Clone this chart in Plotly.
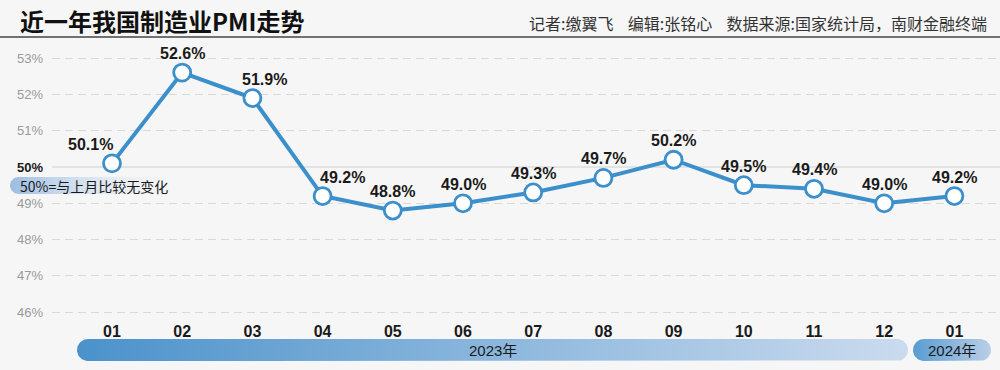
import numpy as np
import plotly.graph_objects as go

# ---- data ----
months = ["01", "02", "03", "04", "05", "06", "07", "08", "09", "10", "11", "12", "01"]
pmi = [50.1, 52.6, 51.9, 49.2, 48.8, 49.0, 49.3, 49.7, 50.2, 49.5, 49.4, 49.0, 49.2]
y_ticks = [46, 47, 48, 49, 50, 51, 52, 53]
label_shift = [-22, 0, 12, 20, 0, 0, 0, 0, 0, 0, 0, 0, 0]
years = ["2023年", "2024年"]

W, H = 1000, 370
BG = "#f6f6f6"
BLUE = "#3b8fcb"
NUM_FONT = "Liberation Sans, Arial, Noto Sans CJK SC"
CJK_FONT = "Noto Sans CJK SC, Noto Sans, sans-serif"

def px(xp):
    return xp / W

def py(yp):
    return 1 - yp / H

# main axes geometry
left_px, right_px, top_px, bot_px = 52, 1000, 50, 320
x0_px, step = 112, 70.2
y50_px, unit = 167, 36.3
x_range = [(left_px - x0_px) / step, (right_px - x0_px) / step]
y_range = [50 - (bot_px - y50_px) / unit, 50 + (y50_px - top_px) / unit]

xs = list(range(len(months)))

fig = go.Figure()

fig.add_trace(go.Scatter(
    x=xs, y=pmi, mode="lines+markers",
    line=dict(color=BLUE, width=4),
    marker=dict(size=17, color="white", line=dict(color=BLUE, width=2.8)),
    hoverinfo="skip", showlegend=False, cliponaxis=False,
))

# value labels
for i, v in enumerate(pmi):
    fig.add_annotation(x=xs[i], y=v, text=f"<b>{v:.1f}%</b>", showarrow=False,
                       yshift=19, xshift=label_shift[i], xref="x", yref="y",
                       xanchor="center", yanchor="middle",
                       font=dict(family=NUM_FONT, size=16, color="#1a1a1a"))

# overlay pixel axes for decorations
def pill(x0, x1, y0, y1, n=30):
    r = (y1 - y0) / 2
    cy = (y0 + y1) / 2
    t1 = np.linspace(np.pi / 2, 3 * np.pi / 2, n)
    t2 = np.linspace(-np.pi / 2, np.pi / 2, n)
    xa = list(x0 + r + r * np.cos(t1)) + list(x1 - r + r * np.cos(t2))
    ya = list(cy - r * np.sin(t1)) + list(cy - r * np.sin(t2))
    xa.append(xa[0]); ya.append(ya[0])
    return xa, ya

pills = [
    ((10, 190, 177, 194), [[0, "rgba(150,185,225,0.95)"], [1, "rgba(246,246,246,0)"]]),
    ((77, 908, 339, 361), [[0, "#4b92cb"], [1, "#cbdbee"]]),
    ((913, 991, 339, 361), [[0, "#5a9cd2"], [1, "#b9cfe7"]]),
]
for (x0, x1, y0, y1), cs in pills:
    xa, ya = pill(x0, x1, y0, y1)
    fig.add_trace(go.Scatter(x=xa, y=ya, mode="lines", fill="toself",
                             line=dict(width=0, color="rgba(0,0,0,0)"),
                             fillgradient=dict(type="horizontal", colorscale=cs),
                             xaxis="x2", yaxis="y2", hoverinfo="skip", showlegend=False))

fig.update_layout(
    width=W, height=H, margin=dict(l=0, r=0, t=0, b=0),
    paper_bgcolor=BG, plot_bgcolor="rgba(0,0,0,0)",
    xaxis=dict(domain=[px(left_px), px(right_px)], range=x_range,
               tickvals=xs, ticktext=[f"<b>{m}</b>" for m in months],
               tickfont=dict(family=NUM_FONT, size=16, color="#1a1a1a"),
               showgrid=False, zeroline=False, showline=False, ticks="",
               ticklabelstandoff=0),
    yaxis=dict(domain=[py(bot_px), py(top_px)], range=y_range,
               tickvals=[t for t in y_ticks if t != 50], showticklabels=False,
               showgrid=True, gridcolor="#d9d9d9", griddash="8px,5px", gridwidth=1,
               zeroline=False, showline=False, ticks=""),
    xaxis2=dict(domain=[0, 1], range=[0, W], anchor="y2", visible=False, fixedrange=True),
    yaxis2=dict(domain=[0, 1], range=[H, 0], anchor="x2", visible=False, fixedrange=True),
)

# solid 50% line
fig.add_shape(type="line", xref="paper", yref="y", x0=px(left_px), x1=1, y0=50, y1=50,
              line=dict(color="#dcdcdc", width=1.5), layer="below")

# y tick labels
for t in y_ticks:
    bold = t == 50
    fig.add_annotation(x=px(45), y=t, xref="paper", yref="y", xanchor="right", yanchor="middle",
                       text=(f"<b>{t}%</b>" if bold else f"{t}%"), showarrow=False,
                       font=dict(family=NUM_FONT, size=13,
                                 color="#1a1a1a" if bold else "#9a9a9a"))

# 50% note
fig.add_annotation(x=px(18), y=py(185.5), xref="paper", yref="paper",
                   xanchor="left", yanchor="middle",
                   text="50%=与上月比较无变化", showarrow=False,
                   font=dict(family=CJK_FONT, size=14, color="#1a1a1a"))

# year labels
fig.add_annotation(x=px((77 + 908) / 2), y=py(350), xref="paper", yref="paper",
                   xanchor="center", yanchor="middle",
                   text=years[0], showarrow=False,
                   font=dict(family=NUM_FONT, size=15, color="#1a1a1a"))
fig.add_annotation(x=px((913 + 991) / 2), y=py(350), xref="paper", yref="paper",
                   xanchor="center", yanchor="middle",
                   text=years[1], showarrow=False,
                   font=dict(family=NUM_FONT, size=15, color="#1a1a1a"))

# header
fig.add_annotation(x=px(18), y=py(20), xref="paper", yref="paper",
                   xanchor="left", yanchor="middle",
                   text="<b>近一年我国制造业PMI走势</b>", showarrow=False,
                   font=dict(family=CJK_FONT, size=24, color="#111111"))
fig.add_annotation(x=px(989), y=py(23), xref="paper", yref="paper",
                   xanchor="right", yanchor="middle",
                   text="记者:缴翼飞    编辑:张铭心    数据来源:国家统计局，南财金融终端", showarrow=False,
                   font=dict(family=CJK_FONT, size=16, color="#333333"))
fig.add_shape(type="line", xref="paper", yref="paper", x0=0, x1=1, y0=py(37), y1=py(37),
              line=dict(color="#444444", width=1.5))

fig.write_html("out.html", config={"displayModeBar": False},
               post_script="document.body.style.margin='0';")
